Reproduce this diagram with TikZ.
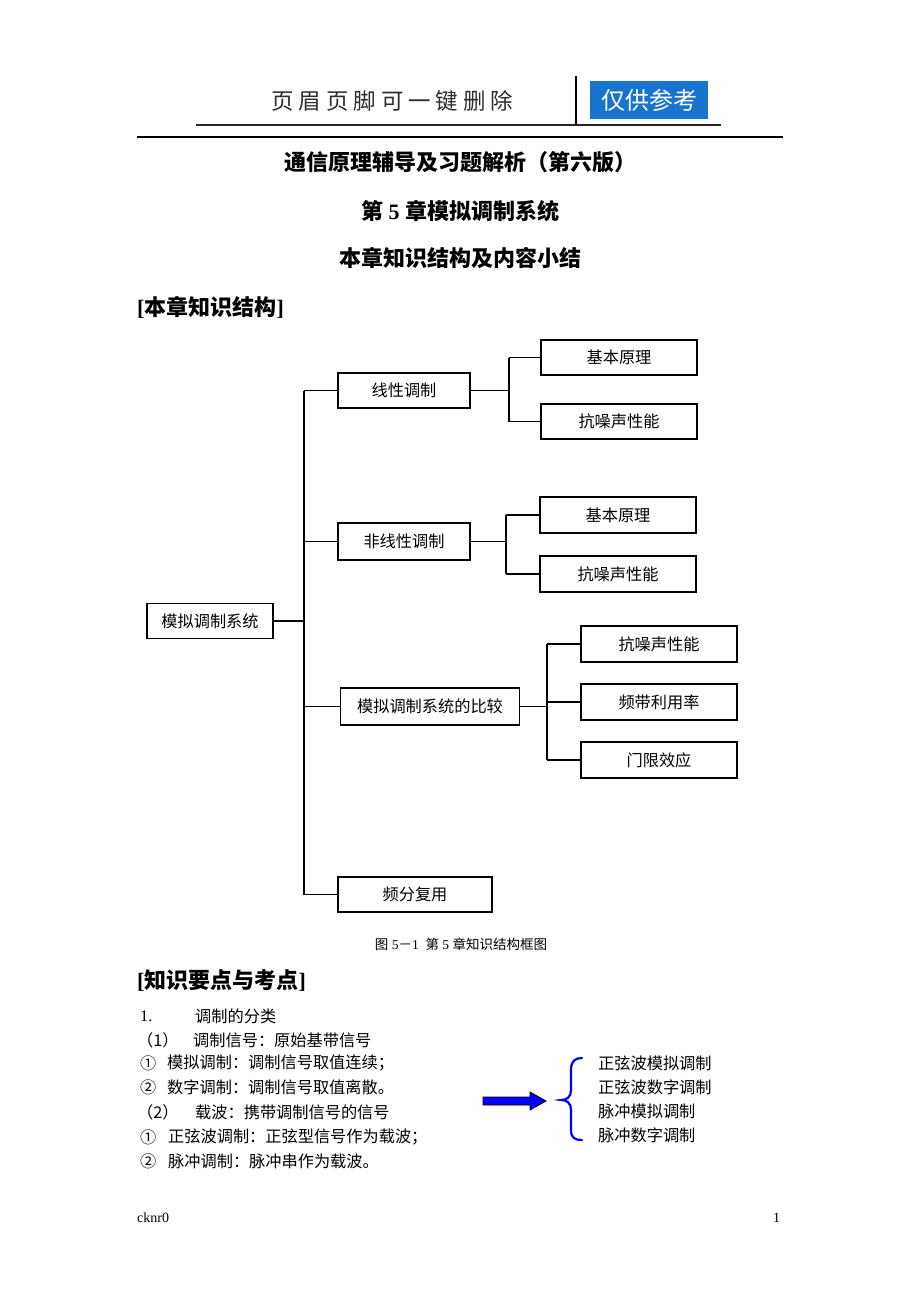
\documentclass[tikz,border=0pt]{standalone}
\usepackage{fontspec}
\setmainfont{Liberation Serif}
\newfontfamily\cjk{Noto Sans CJK SC}
\usetikzlibrary{calc}
\definecolor{hdrblue}{RGB}{24,116,205}
\definecolor{hdrgray}{RGB}{45,45,45}
\definecolor{pureblue}{RGB}{0,0,255}
\begin{document}
\begin{tikzpicture}[x=1pt,y=-1pt,
  box/.style={draw,line width=1.2pt,inner sep=0pt,minimum height=35,font=\cjk\fontsize{16.2}{18}\selectfont},
  link/.style={line width=1.2pt},
  txt/.style={anchor=west,inner sep=0pt,font=\fontsize{16.2}{18}\selectfont},
  ttl/.style={inner sep=0pt,font=\bfseries\fontsize{22}{24}\selectfont},
  bluebrace/.style={draw=pureblue,line width=2.2pt,line cap=round}]
\useasboundingbox (0,0) rectangle (920,1302);
\fill[white] (0,0) rectangle (920,1302);

% header
\node[anchor=west,inner sep=0pt,text=hdrgray,font=\cjk\fontsize{22.5}{24}\selectfont\addfontfeature{LetterSpace=22}] (hdrtxt) at (271,101) {页眉页脚可一键删除};
\draw[line width=2.6pt,black!85] (196,125) -- (721,125);
\draw[line width=2pt] (576,76) -- (576,125);
\node[fill=hdrblue,minimum width=118,minimum height=38,inner sep=0pt,text=white,font=\cjk\fontsize{24}{26}\selectfont] (hdrbox) at (649,100) {仅供参考};
\draw[line width=1.3pt] (137,137) -- (783,137);

% titles
\node[ttl] (t1) at (460,162) {\cjk 通信原理辅导及习题解析（第六版）};
\node[ttl] (t2) at (460,211) {{\cjk 第} 5 {\cjk 章模拟调制系统}};
\node[ttl] (t3) at (460,258) {\cjk 本章知识结构及内容小结};
\node[ttl,anchor=west] (s1) at (137,307) {[{\cjk 本章知识结构}]};

% tree
\node[box,minimum width=126] (root) at (210,621) {模拟调制系统};
\node[box,minimum width=132] (lin) at (404,390.5) {线性调制};
\node[box,minimum width=132,minimum height=37] (nl) at (404,541.5) {非线性调制};
\node[box,minimum width=179,minimum height=37] (cmp) at (430,706.5) {模拟调制系统的比较};
\node[box,minimum width=154] (fdm) at (415,894.5) {频分复用};
\node[box,minimum width=156] (lin1) at (619,357.5) {基本原理};
\node[box,minimum width=156] (lin2) at (619,421.5) {抗噪声性能};
\node[box,minimum width=156,minimum height=36] (nl1) at (618,515) {基本原理};
\node[box,minimum width=156,minimum height=36] (nl2) at (618,574) {抗噪声性能};
\node[box,minimum width=156,minimum height=36] (c1) at (659,644) {抗噪声性能};
\node[box,minimum width=156,minimum height=36] (c2) at (659,702) {频带利用率};
\node[box,minimum width=156,minimum height=36] (c3) at (659,760) {门限效应};

\coordinate (tr) at (304,0);
\coordinate (b1) at (509,0);
\coordinate (b2) at (506,0);
\coordinate (b3) at (547,0);
\draw[link] (root.east) -- (root.east -| tr);
\draw[link] (tr |- lin.west) -- (tr |- fdm.west);
\foreach \n in {lin,nl,cmp,fdm} \draw[link] (tr |- \n.west) -- (\n.west);
\draw[link] (lin.east) -- (lin.east -| b1);
\draw[link] (b1 |- lin1.west) -- (b1 |- lin2.west);
\foreach \n in {lin1,lin2} \draw[link] (b1 |- \n.west) -- (\n.west);
\draw[link] (nl.east) -- (nl.east -| b2);
\draw[link] (b2 |- nl1.west) -- (b2 |- nl2.west);
\foreach \n in {nl1,nl2} \draw[link] (b2 |- \n.west) -- (\n.west);
\draw[link] (cmp.east) -- (cmp.east -| b3);
\draw[link] (b3 |- c1.west) -- (b3 |- c3.west);
\foreach \n in {c1,c2,c3} \draw[link] (b3 |- \n.west) -- (\n.west);

\node[inner sep=0pt,font=\fontsize{13.5}{15}\selectfont] (cap) at (461,944) {{\cjk 图} 5{\cjk －}1\ \ {\cjk 第} 5 {\cjk 章知识结构框图}};

% key points
\node[ttl,anchor=west] (s2) at (137,981) {[{\cjk 知识要点与考点}]};
\node[txt] (a1) at (140,1016) {1.};
\node[txt] (a2) at (195,1016) {\cjk 调制的分类};
\node[txt] (b1n) at (137,1040) {\cjk （1）};
\node[txt] (b2n) at (193,1040) {\cjk 调制信号：原始基带信号};
\node[txt] (c1n) at (140,1063) {\cjk ①};
\node[txt] (c2n) at (167,1063) {\cjk 模拟调制：调制信号取值连续；};
\node[txt] (d1n) at (140,1087) {\cjk ②};
\node[txt] (d2n) at (167,1087) {\cjk 数字调制：调制信号取值离散。};
\node[txt] (e1n) at (137,1112) {\cjk （2）};
\node[txt] (e2n) at (195,1112) {\cjk 载波：携带调制信号的信号};
\node[txt] (f1n) at (140,1137) {\cjk ①};
\node[txt] (f2n) at (168,1137) {\cjk 正弦波调制：正弦型信号作为载波；};
\node[txt] (g1n) at (140,1161) {\cjk ②};
\node[txt] (g2n) at (168,1161) {\cjk 脉冲调制：脉冲串作为载波。};

% arrow and brace
\draw[fill=pureblue,line width=0.8pt] (483,1097) -- (530,1097) -- (530,1092) -- (546,1101) -- (530,1110) -- (530,1105) -- (483,1105) -- cycle;
\draw[bluebrace] (582,1058) .. controls (575,1058) and (571,1061) .. (571,1070) -- (571,1090) .. controls (571,1097) and (567,1100) .. (561,1100) .. controls (567,1100) and (571,1103) .. (571,1110) -- (571,1130) .. controls (571,1138) and (575,1140) .. (582,1140);
\node[txt] (r1) at (598,1063) {\cjk 正弦波模拟调制};
\node[txt] (r2) at (598,1087) {\cjk 正弦波数字调制};
\node[txt] (r3) at (598,1111) {\cjk 脉冲模拟调制};
\node[txt] (r4) at (598,1135) {\cjk 脉冲数字调制};

% footer
\node[txt,font=\fontsize{14}{16}\selectfont] (ft1) at (137,1218) {cknr0};
\node[txt,font=\fontsize{14}{16}\selectfont] (ft2) at (773,1218) {1};
\end{tikzpicture}
\end{document}
